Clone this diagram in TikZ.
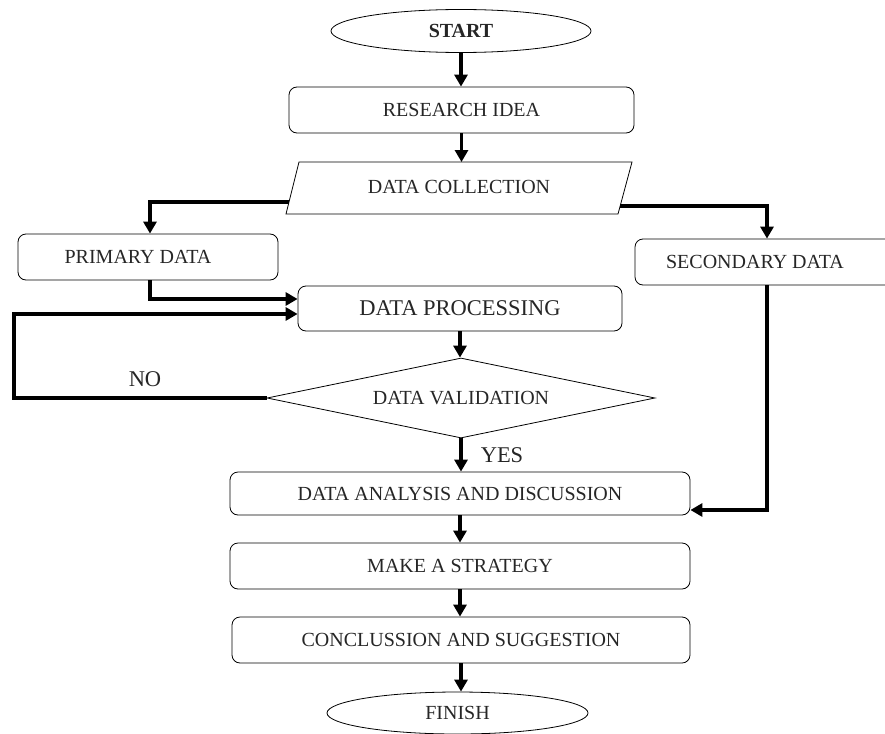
\documentclass[tikz,border=0pt]{standalone}
\usepackage{fontspec}
\setmainfont{Liberation Serif}
\usetikzlibrary{arrows.meta,shapes.geometric}

\tikzset{
  txt/.style={font=\fontsize{20}{24}\selectfont, text=black!85},
  bigtxt/.style={font=\fontsize{22.5}{26}\selectfont, text=black!85},
  stepbox/.style={draw, line width=0.8pt, rounded corners=8pt, txt, inner sep=0pt},
  terminal/.style={draw, ellipse, line width=0.8pt, txt, inner sep=0pt},
  decision/.style={draw, diamond, line width=0.8pt, txt, inner sep=0pt, aspect=4.85},
  arr/.style={line width=3.6pt, -{Triangle[width=13pt,length=12pt]}},
  flow/.style={line width=3.6pt},
}

\begin{document}
\begin{tikzpicture}[x=1pt,y=-1pt]
\useasboundingbox (0,0) rectangle (885,733);
\clip (0,0) rectangle (885,733);

% main column
\node[terminal, minimum width=260pt, minimum height=43pt] (start) at (461,31) {\textbf{START}};
\node[stepbox, minimum width=345pt, minimum height=46pt] (idea) at (461.5,110) {RESEARCH IDEA};

% data collection (parallelogram)
\draw[line width=0.8pt] (299,162) -- (632,162) -- (618,214) -- (286,214) -- cycle;
\node[txt] (coll) at (459,187) {DATA COLLECTION};
\coordinate (collN) at (460,162);
\coordinate (collL) at (289,202);
\coordinate (collR) at (620,206);

% data sources
\node[stepbox, minimum width=260pt, minimum height=46pt] (prim) at (148,257) {PRIMARY DATA\hspace*{20pt}};
\node[stepbox, minimum width=260pt, minimum height=46pt] (sec) at (765,262) {SECONDARY DATA\hspace*{20pt}};

% processing and validation
\node[stepbox, bigtxt, minimum width=324pt, minimum height=45pt] (proc) at (460,308.5) {DATA PROCESSING};
\node[decision, minimum width=388pt, minimum height=80pt] (val) at (461,398) {DATA VALIDATION};

% results
\node[stepbox, minimum width=460pt, minimum height=43pt] (ana) at (460,493.5) {DATA ANALYSIS AND DISCUSSION};
\node[stepbox, minimum width=460pt, minimum height=46pt] (strat) at (460,566) {MAKE A STRATEGY};
\node[stepbox, minimum width=458pt, minimum height=46pt] (concl) at (461,640) {CONCLUSSION AND SUGGESTION};
\node[terminal, minimum width=261pt, minimum height=42pt] (fin) at (457.5,713) {FINISH};

% connectors
\draw[arr] (start.south) -- (start.south |- idea.north);
\draw[arr] (idea.south) -- (idea.south |- collN);
\draw[arr] (collL) -| ([xshift=2pt]prim.north);
\draw[arr] (collR) -| ([xshift=2pt]sec.north);
\draw[arr] ([xshift=2pt]prim.south) |- ([yshift=9.5pt]proc.west);

\coordinate (loopc) at (14,398);
\draw[arr] (val.west) -- (loopc) |- ([yshift=-5.5pt]proc.west);
\node[bigtxt] (no) at (145,379) {NO};

\draw[arr] (proc.south) -- (proc.south |- val.north);
\draw[arr] (val.south) -- (val.south |- ana.north);
\node[bigtxt] (yes) at (502,455) {YES};

\draw[arr] ([xshift=2pt]sec.south) |- ([yshift=-16.5pt]ana.east);

\draw[arr] (ana.south) -- (ana.south |- strat.north);
\draw[arr] (strat.south) -- (strat.south |- concl.north);
\draw[arr] (concl.south) -- (concl.south |- fin.north);
\end{tikzpicture}
\end{document}
